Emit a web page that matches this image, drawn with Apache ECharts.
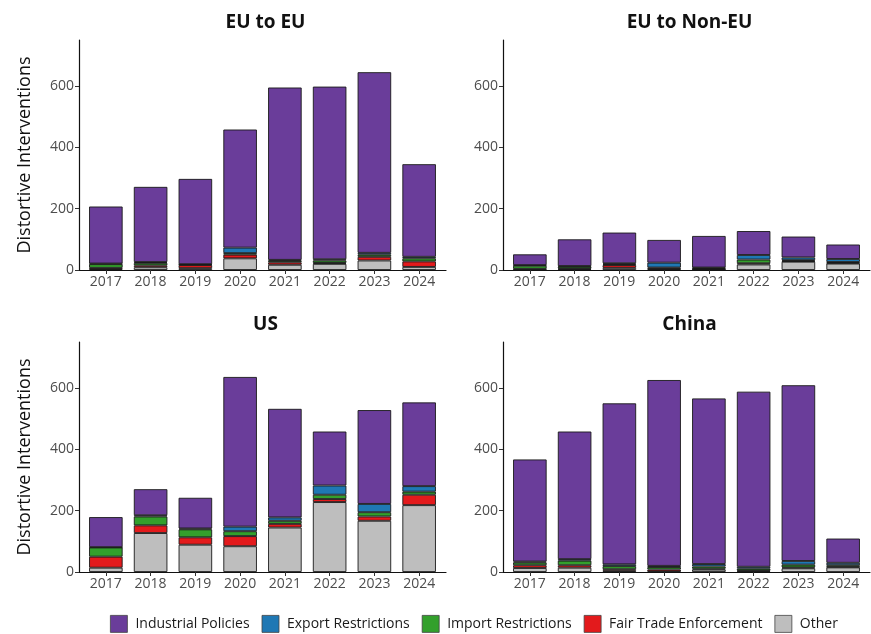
<!DOCTYPE html>
<html><head><meta charset="utf-8">
<script src="https://cdn.jsdelivr.net/npm/echarts@6/dist/echarts.min.js"></script>
<style>html,body{margin:0;padding:0;background:#fff}#c{width:871px;height:634px}</style>
</head><body><div id="c"></div>
<script>
const years = ['2017','2018','2019','2020','2021','2022','2023','2024'];
const panelTitles = ['EU to EU','EU to Non-EU','US','China'];
const seriesNames = ['Other','Fair Trade Enforcement','Import Restrictions','Export Restrictions','Industrial Policies'];
const yTicks = [0,200,400,600];

// EU to EU
const euEuIndustrial = [186,245,278,385,562,563,589,302];
const euEuExport     = [2,3,1,18,3,4,6,5];
const euEuImport     = [12,8,2,5,5,8,7,10];
const euEuFair       = [4,6,10,12,8,3,12,18];
const euEuOther      = [3,9,6,38,17,20,31,10];
// EU to Non-EU
const euNonIndustrial = [35,87,100,74,103,78,68,47];
const euNonExport     = [2,2,3,16,2,15,9,10];
const euNonImport     = [10,6,3,3,3,12,3,3];
const euNonFair       = [2,2,9,2,1,4,2,2];
const euNonOther      = [2,3,7,3,2,18,27,21];
// US
const usIndustrial = [98,85,100,488,354,176,306,273];
const usExport     = [1,4,3,15,11,30,27,18];
const usImport     = [30,29,26,16,10,14,14,10];
const usFair       = [36,25,24,33,12,10,14,34];
const usOther      = [14,127,89,84,145,228,167,218];
// China
const cnIndustrial = [333,416,525,606,540,571,573,79];
const cnExport     = [3,5,6,4,8,6,12,8];
const cnImport     = [9,15,10,8,7,6,9,5];
const cnFair       = [9,8,5,6,3,2,3,2];
const cnOther      = [13,14,4,2,8,3,12,15];

const panels = [
  [euEuOther, euEuFair, euEuImport, euEuExport, euEuIndustrial],
  [euNonOther, euNonFair, euNonImport, euNonExport, euNonIndustrial],
  [usOther, usFair, usImport, usExport, usIndustrial],
  [cnOther, cnFair, cnImport, cnExport, cnIndustrial]
];
const colors = {'Other':'#bebebe','Fair Trade Enforcement':'#e31a1c','Import Restrictions':'#33a02c','Export Restrictions':'#1f78b4','Industrial Policies':'#6a3d9a'};

const FONT = 'Open Sans';
const plotW = 367, plotH = 230;
const band = plotW / 8.2;
const pad = 0.1 * band;
const lefts = [79, 503, 79, 503];
const tops = [40, 40, 342, 342];

const grids = [], xAxes = [], yAxes = [], series = [], titles = [];
for (let p=0;p<4;p++){
  grids.push({left:lefts[p]+pad, top:tops[p], width:8*band, height:plotH});
  titles.push({text:panelTitles[p], left:lefts[p]+plotW/2-2, top:tops[p]-32, textAlign:'center',
    textStyle:{fontFamily:FONT, fontWeight:'bold', fontSize:19, color:'#111'}});
  xAxes.push({type:'category', gridIndex:p, data:years, boundaryGap:true,
    axisLine:{show:false},
    axisTick:{show:true, alignWithLabel:true, length:4, lineStyle:{color:'#333'}},
    axisLabel:{color:'#4d4d4d', fontFamily:FONT, fontSize:14, margin:5, interval:0},
    splitLine:{show:false}});
  yAxes.push({type:'value', gridIndex:p, min:0, max:750, offset:pad,
    name: (p%2===0)?'Distortive Interventions':'', nameLocation:'middle', nameGap:45, nameRotate:90,
    nameTextStyle:{fontFamily:FONT, fontSize:18, color:'#111'},
    axisLine:{show:true, lineStyle:{color:'#111', width:1.2}},
    axisTick:{show:true, length:4, lineStyle:{color:'#333'}, customValues:yTicks},
    axisLabel:{color:'#4d4d4d', fontFamily:FONT, fontSize:14, margin:5, customValues:yTicks},
    splitLine:{show:false}});
  panels[p].forEach((arr,k)=>{
    series.push({type:'bar', name:seriesNames[k], xAxisIndex:p, yAxisIndex:p, stack:'s'+p,
      barWidth:'75%',
      itemStyle:{color:colors[seriesNames[k]], borderColor:'#1a1a1a', borderWidth:0.9},
      data: arr});
  });
}
for (let p=0;p<4;p++){
  grids.push({left:lefts[p], top:tops[p], width:plotW, height:plotH});
  xAxes.push({type:'value', gridIndex:4+p, min:0, max:1, axisLine:{show:true, lineStyle:{color:'#111', width:1.2}},
    axisTick:{show:false}, axisLabel:{show:false}, splitLine:{show:false}});
  yAxes.push({type:'value', gridIndex:4+p, min:0, max:1, show:false});
}

const chart = echarts.init(document.getElementById('c'), null, {renderer:'canvas'});
chart.setOption({
  backgroundColor:'#fff',
  animation:false,
  title:titles,
  grid:grids, xAxis:xAxes, yAxis:yAxes, series:series,
  legend:{data:['Industrial Policies','Export Restrictions','Import Restrictions','Fair Trade Enforcement','Other'],
    top:615, left:105, padding:[0,5], itemWidth:17, itemHeight:17, itemGap:12, icon:'rect',
    itemStyle:{borderColor:'#444', borderWidth:0.8},
    textStyle:{fontFamily:FONT, fontSize:14, color:'#1a1a1a', padding:[0,0,0,3]}}
});
</script></body></html>
